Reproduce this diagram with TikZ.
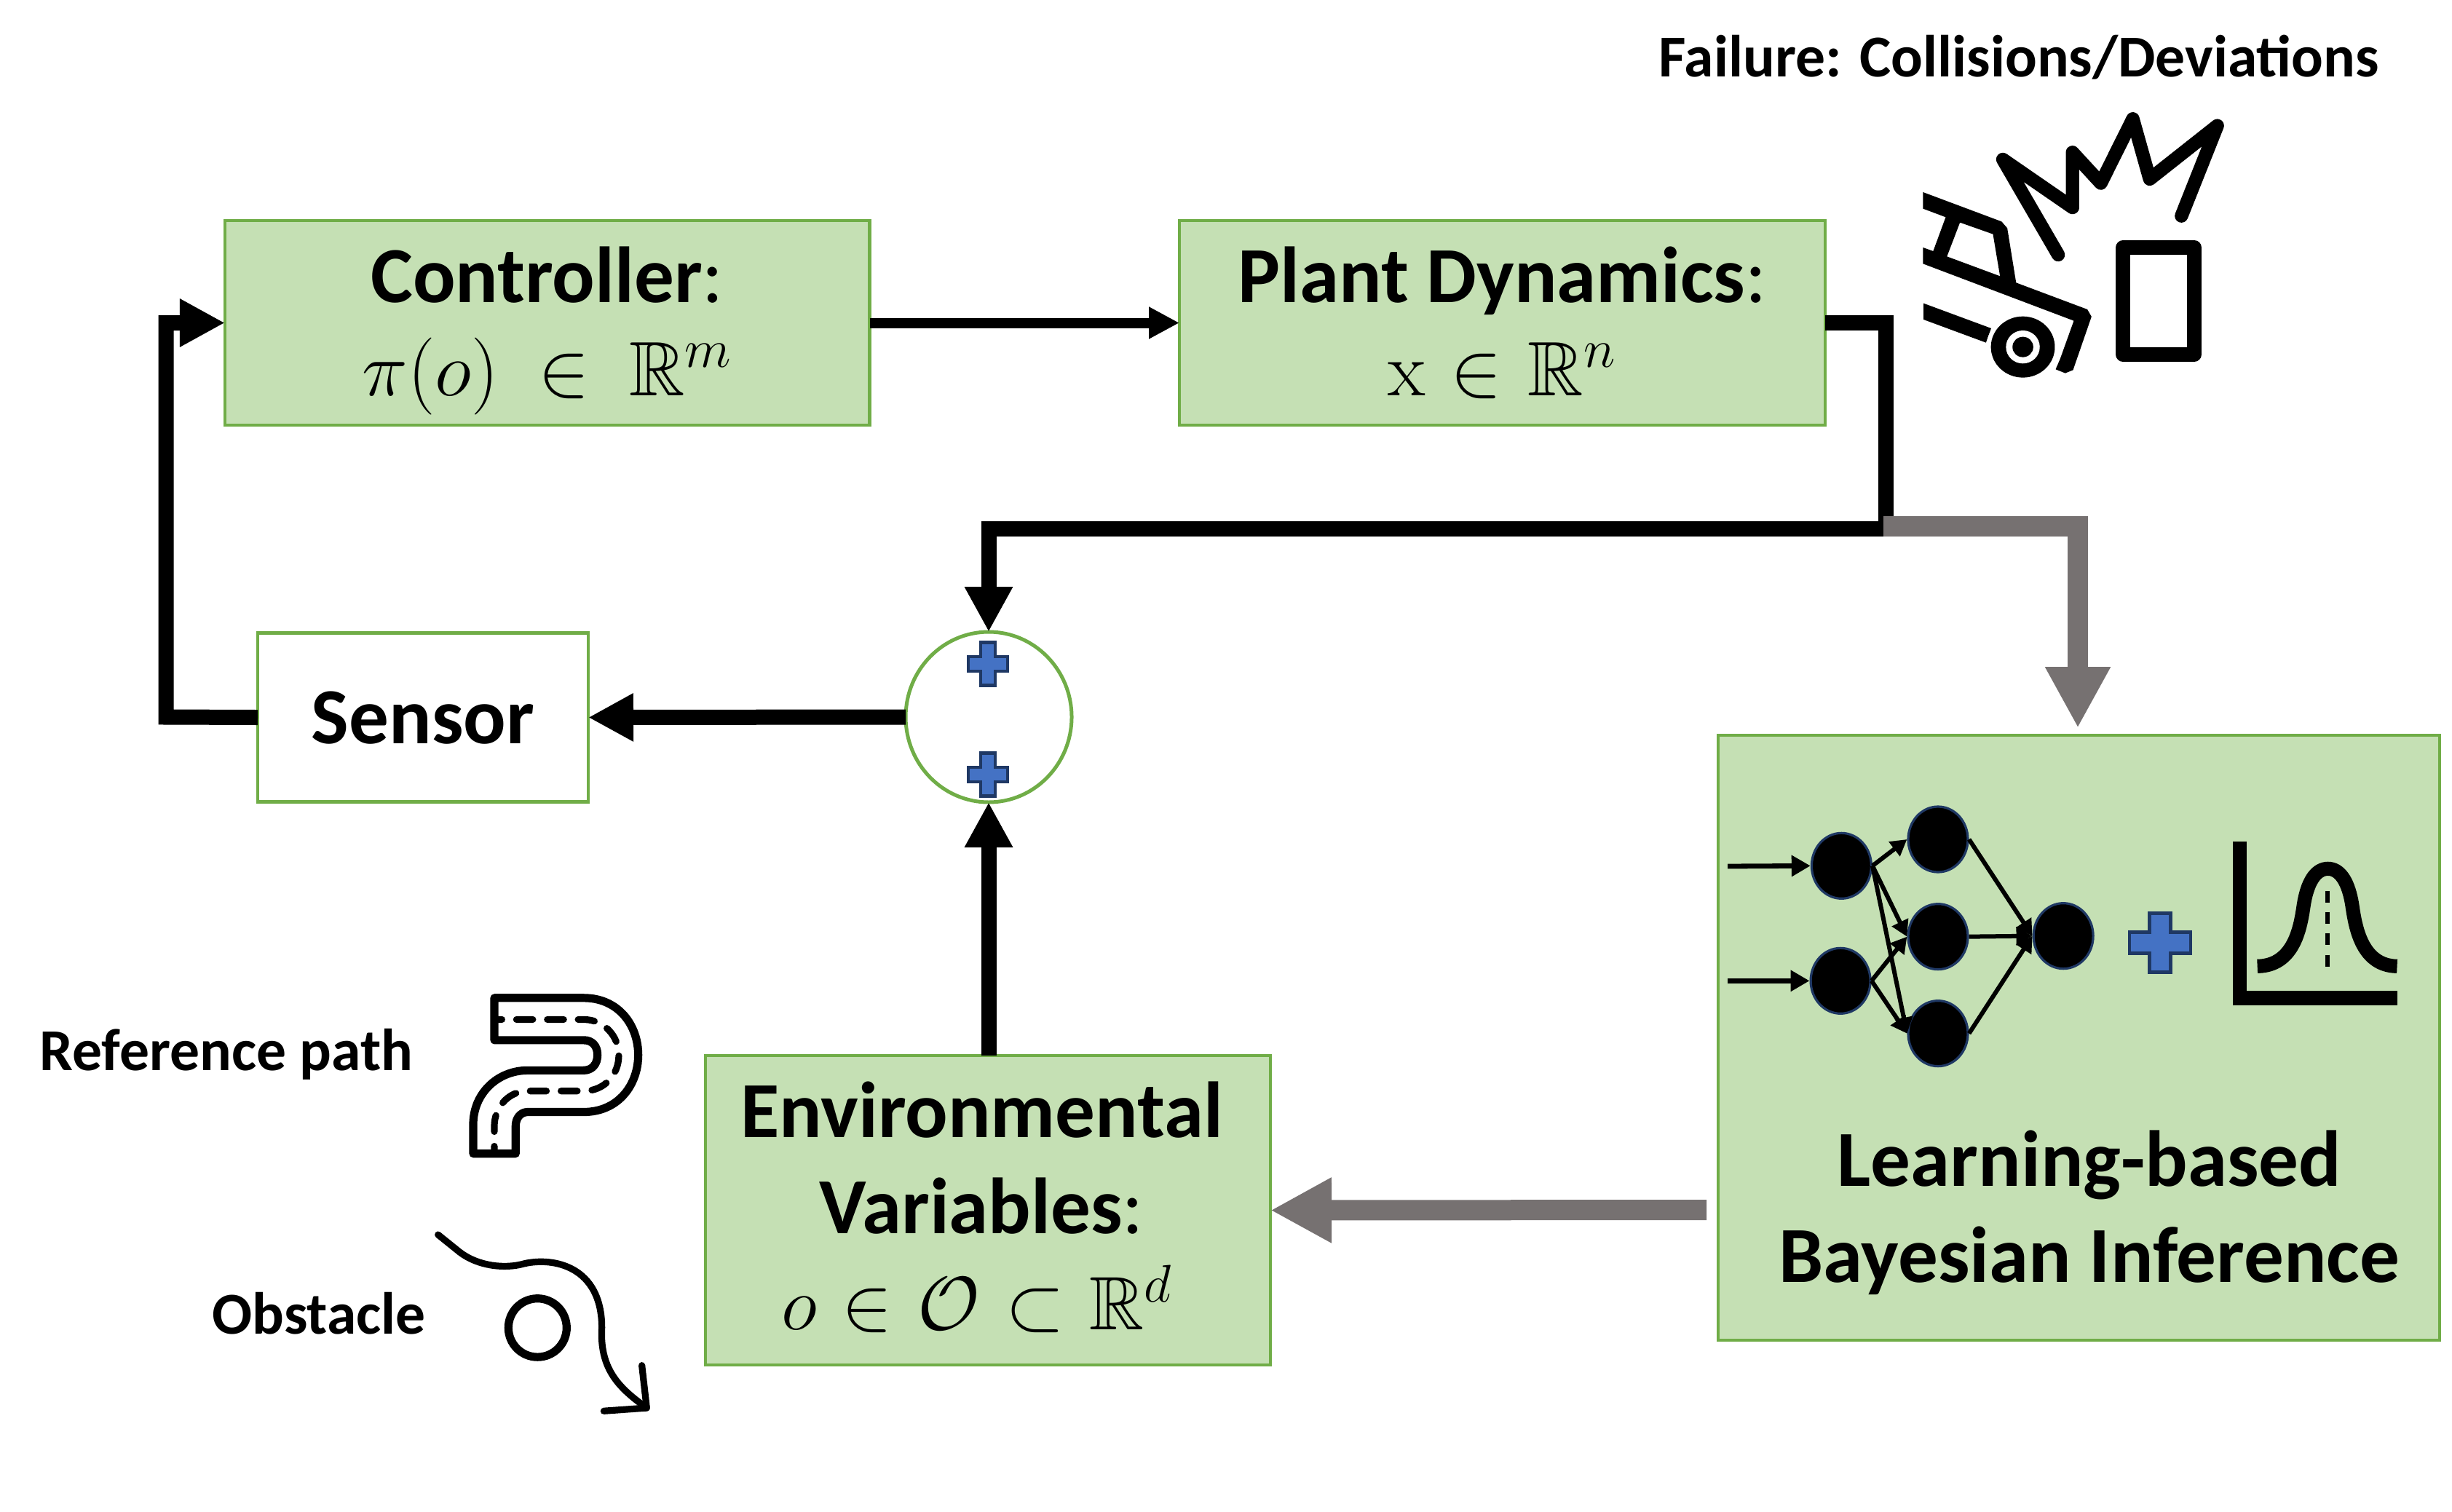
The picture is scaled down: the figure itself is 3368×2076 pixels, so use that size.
\RequirePackage{fix-cm}
\documentclass[tikz,border=0pt]{standalone}
\usepackage{amssymb}
\usepackage[no-math]{fontspec}
\setmainfont{Carlito}
\usetikzlibrary{arrows.meta,shapes.geometric,calc}
\definecolor{boxfill}{HTML}{C5E0B4}
\definecolor{boxline}{HTML}{70AD47}
\definecolor{plusfill}{HTML}{4472C4}
\definecolor{plusline}{HTML}{1F3864}
\definecolor{flowgray}{HTML}{767171}
\newcommand{\mathline}[2]{{\fontsize{#1}{33}\selectfont$#2$}}
\newcommand{\headline}[1]{\rule{0pt}{24.4pt}#1}
\newcommand{\plusicon}[5]{% cx cy half-w half-h half-arm
  \draw[plusicon] (#1-#5,#2-#4) -- (#1+#5,#2-#4) -- (#1+#5,#2-#5) -- (#1+#3,#2-#5) -- (#1+#3,#2+#5) -- (#1+#5,#2+#5) -- (#1+#5,#2+#4) -- (#1-#5,#2+#4) -- (#1-#5,#2+#5) -- (#1-#3,#2+#5) -- (#1-#3,#2-#5) -- (#1-#5,#2-#5) -- cycle;}
\tikzset{
  x=0.25pt,y=-0.25pt,
  box/.style={draw=boxline,fill=boxfill,line width=1.1pt,rectangle,inner sep=0pt,outer sep=0pt,align=center,font=\fontsize{27.3}{33}\selectfont},
  sensorbox/.style={box,fill=white},
  sumcircle/.style={draw=boxline,fill=white,line width=1.25pt,ellipse,inner sep=0pt,outer sep=0pt,minimum width=57pt,minimum height=58.5pt},
  plusicon/.style={draw=plusline,fill=plusfill,line width=1.2pt,line join=miter},
  thinflow/.style={draw=black,line width=3.5pt,-{Triangle[length=10.5pt,width=10.3pt]}},
  thickflow/.style={draw=black,line width=5.25pt,line join=miter,-{Triangle[length=15.5pt,width=15.5pt]}},
  grayflow/.style={draw=flowgray,line width=7pt,line join=miter,-{Triangle[length=21pt,width=21pt]}},
  neuron/.style={ellipse,draw=plusline,fill=black,line width=0.8pt,inner sep=0pt,minimum width=20.5pt,minimum height=22.5pt},
  netin/.style={draw=black,line width=1.7pt,-{Triangle[length=6.5pt,width=7pt]}},
  netedge/.style={draw=black,line width=1.5pt,-{Triangle[length=5.5pt,width=6pt]}},
  boldlabel/.style={inner sep=0pt,font=\bfseries\fontsize{20.4}{24}\selectfont},
  biglabel/.style={inner sep=0pt,align=center,font=\bfseries\fontsize{27.3}{33}\selectfont},
  iconline/.style={draw=black,line join=round,line cap=round},
}
\begin{document}
\begin{tikzpicture}
\useasboundingbox (0,0) rectangle (3368,2076);

% boxes
\node[box,minimum width=221.4pt,minimum height=70.25pt] (ctrl) at (751.75,443.5) {\headline{\textbf{Controller}:}\\[-1pt]\mathline{26.5}{\pi(o)\mskip4.2mu\in\mskip4.2mu\mathbb{R}^{m}}};
\node[box,minimum width=221.75pt,minimum height=70.25pt] (plant) at (2063.5,443.5) {\headline{\textbf{Plant Dynamics}:}\\[-1pt]\mathline{26.5}{\mathrm{x}\mskip1mu\in\mskip1mu\mathbb{R}^{n}\vphantom{(}}};
\node[sensorbox,minimum width=113.5pt,minimum height=58pt,text depth=0pt] (sensor) at (581,985.5) {\textbf{Sensor}};
\node[sumcircle] (sum) at (1358,985) {};
\node[box,minimum width=194pt,minimum height=106.25pt] (env) at (1357,1662.5) {\textbf{Environmental}\kern4.3pt\\\textbf{Variables}:\kern4.3pt\\\mathline{26}{o\mskip1mu\in\mskip1mu\mathcal{O}\mskip1mu\subset\mskip1mu\mathbb{R}^{d}}\kern7.5pt\rule[-3.4pt]{0pt}{1pt}};
\node[box,minimum width=247.75pt,minimum height=207.75pt] (learn) at (2855.5,1425.5) {};
\node[biglabel] (learntext) at (2870,1666) {Learning-based\\Bayesian Inference};

% free ends
\coordinate (split) at (2590,726);
\coordinate (graystart) at (2587,723);
\coordinate (graytip) at (2854,1000);
\coordinate (learnout) at (2344,1662);
\coordinate (fbcorner) at (228,985);

% flows
\draw[thinflow] (ctrl.east) -- (plant.west);
\draw[thickflow] (plant.east) -| (split) -| (sum.north);
\draw[grayflow] (graystart) -| (graytip);
\draw[thickflow] (env.north -| sum) -- (sum.south);
\draw[thickflow] (sum.west) -- (sensor.east);
\draw[thickflow] (sensor.west) -- (fbcorner) |- (ctrl.west);
\draw[grayflow] (learnout) -- (env.east);

% plus signs in the sum
\plusicon{1357}{912}{27}{29.5}{10}
\plusicon{1357}{1064}{27}{29.5}{10}

% labels
\node[boldlabel] (failure) at (2773,79) {Failure: Collisions/Deviations};
\node[boldlabel] (refpath) at (311,1448) {Reference path};
\node[boldlabel] (obstacle) at (438,1804) {Obstacle};

% crash icon
\begin{scope}[shift={(2560,120)},x=0.25pt/2.8,y=-0.25pt/3]
  \draw[iconline,line width=4.6pt] (748,690) -- (535,297) -- (803,495) -- (803,268) -- (912,395) -- (1035,130) -- (1100,378) -- (1360,158) -- (1222,530);
  \fill[black,even odd rule] (228,432) -- (530,553) -- (552,580) -- (586,805) -- (860,915) -- (876,945) -- (805,1165) -- (775,1178) -- (738,1162) -- (755,1120) -- (808,962) -- (228,727) -- (228,660) -- (267,675) -- (315,535) -- (228,500) -- cycle
     (370,557) -- (497,605) -- (524,778) -- (320,697) -- cycle;
  \fill[black] (230,890) -- (490,993) -- (470,1052) -- (230,957) -- cycle;
  \fill[white] (612,1070) ellipse [x radius=140,y radius=140];
  \fill[black] (612,1070) ellipse [x radius=123,y radius=126];
  \fill[white] (612,1070) ellipse [x radius=65,y radius=68];
  \fill[black] (612,1070) ellipse [x radius=40,y radius=42];
  \draw[black,line width=5pt,line join=round] (998,660) rectangle (1271,1101);
\end{scope}

% road icon
\begin{scope}[shift={(560,1320)},x=0.25pt/3,y=-0.25pt/2.36]
  \draw[iconline,line width=2.8pt] (357,120) -- (725,120) .. controls (870,120) and (950,210) .. (950,305) .. controls (950,400) and (870,490) .. (725,490) -- (495,490) .. controls (465,490) and (445,510) .. (445,535) -- (445,625) -- (270,625) -- (270,530) .. controls (270,430) and (370,355) .. (495,355) -- (725,355) .. controls (760,355) and (782,335) .. (782,305) .. controls (782,275) and (760,257) .. (725,257) -- (357,257) -- cycle;
  \draw[iconline,line width=2.3pt,dash pattern=on 5.6pt off 5pt,dash phase=3pt] (357,190) -- (725,190) .. controls (810,190) and (870,245) .. (870,305) .. controls (870,370) and (810,422) .. (725,422) -- (495,422) .. controls (410,422) and (357,480) .. (357,535) -- (357,625);
  % obstacle icon
  \draw[iconline,line width=2.3pt] (125,888) -- (215,945) .. controls (290,990) and (400,1000) .. (480,982) .. controls (600,960) and (800,990) .. (800,1190) .. controls (790,1330) and (880,1390) .. (985,1450);
  \draw[iconline,line width=2.3pt] (965,1312) -- (985,1450) -- (808,1460);
  \draw[iconline,line width=2.8pt] (535,1190) ellipse [x radius=120,y radius=95];
\end{scope}

% network in the learning box
\begin{scope}[shift={(2340,1060)},x=0.25pt/1.568,y=-0.25pt/3]
  \node[neuron] (n1) at (297,388) {};
  \node[neuron] (n2) at (295,862) {};
  \node[neuron] (h1) at (505,279) {};
  \node[neuron] (h2) at (505,680) {};
  \node[neuron] (h3) at (505,1079) {};
  \node[neuron] (o1) at (775,677) {};
  \coordinate (in1) at (52,390);
  \coordinate (in2) at (52,862);
  \draw[netin] (in1) -- (n1.west);
  \draw[netin] (in2) -- (n2.west);
  \foreach \a/\b in {n1/h1,n1/h2,n1/h3,n2/h2,n2/h3,h1/o1,h2/o1,h3/o1}
    \draw[netedge] (\a.east) -- (\b.west);
  % bell curve
  \draw[black,line width=4.8pt,line join=miter] (1155,288) -- (1155,933) -- (1494,933);
  \draw[black,line width=4.8pt] (1193,802) .. controls (1270,800) and (1285,650) .. (1292,560) .. controls (1300,450) and (1320,400) .. (1345,400) .. controls (1370,400) and (1390,450) .. (1398,560) .. controls (1405,650) and (1420,800) .. (1494,802);
  \draw[black,line width=1.5pt,dash pattern=on 4pt off 3.3pt] (1344,492) -- (1344,805);
\end{scope}
\plusicon{2967}{1295}{42}{40.5}{14.5}
\end{tikzpicture}
\end{document}
